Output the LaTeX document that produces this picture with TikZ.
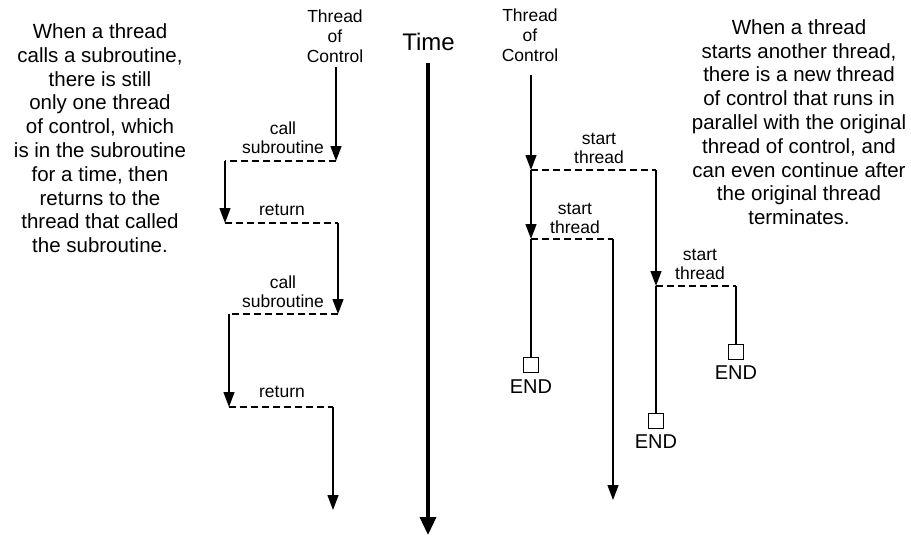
\documentclass[tikz,border=0pt]{standalone}
\usepackage{fontspec}
\setmainfont{Liberation Sans}
\usetikzlibrary{arrows.meta}
\begin{document}
\begin{tikzpicture}[x=1pt,y=-1pt,
  desc/.style={align=center,inner sep=0,font=\fontsize{20.5}{23.8}\selectfont,anchor=south},
  lbl/.style={align=center,inner sep=0,font=\fontsize{17.5}{19}\selectfont,anchor=south},
  toc/.style={align=center,inner sep=0,font=\fontsize{17.5}{20}\selectfont,anchor=south},
  flow/.style={line width=1.3pt,-{Triangle[length=15pt,width=11pt]}},
  plain/.style={line width=1.3pt},
  dsh/.style={line width=1.3pt,dash pattern=on 7pt off 4pt},
  timearrow/.style={line width=3.5pt,-{Triangle[length=18pt,width=16pt]}},
  endbox/.style={draw,line width=1.3pt,minimum size=15pt,inner sep=0,anchor=north},
  endlbl/.style={inner sep=0,font=\fontsize{20}{24}\selectfont,anchor=base},
]
\useasboundingbox (0,0) rectangle (911,536);

% descriptions
\node[desc] (descL) at (100,253) {When a thread\\calls a subroutine,\\there is still\\only one thread\\of control, which\\is in the subroutine\\for a time, then\\returns to the\\thread that called\\the subroutine.};
\node[desc] (descR) at (799,225) {When a thread\\starts another thread,\\there is a new thread\\of control that runs in\\parallel with the original\\thread of control, and\\can even continue after\\the original thread\\terminates.};

% headers
\node[toc] (tocL) at (335,63) {Thread\\of\\Control};
\node[toc] (tocR) at (530,62) {Thread\\of\\Control};
\node[inner sep=0,font=\fontsize{24}{28}\selectfont,anchor=base] (time) at (428.5,50) {Time};

% time axis
\coordinate (t0) at (428,63);
\coordinate (t1) at (428,535);
\draw[timearrow] (t0) -- (t1);

% left: subroutine calls
\coordinate (L0) at (336,67);
\coordinate (L1) at (336,161);
\coordinate (L2) at (225,161);
\coordinate (L3) at (225,223);
\coordinate (L4) at (338,223);
\coordinate (L5) at (338,314);
\coordinate (L6) at (229,314);
\coordinate (L7) at (229,407);
\coordinate (L8) at (333,407);
\coordinate (L9) at (333,510);
\draw[flow] (L0) -- (L1);
\draw[dsh] (L1) -- (L2);
\draw[flow] (L2) -- (L3);
\draw[dsh] (L3) -- (L4);
\draw[flow] (L4) -- (L5);
\draw[dsh] (L5) -- (L6);
\draw[flow] (L6) -- (L7);
\draw[dsh] (L7) -- (L8);
\draw[flow] (L8) -- (L9);
\node[lbl] (call1) at (283,154) {call\\subroutine};
\node[lbl] (ret1) at (282,216) {return};
\node[lbl] (call2) at (283,308) {call\\subroutine};
\node[lbl] (ret2) at (282,398) {return};

% right: thread starts
\coordinate (R0) at (531,75);
\coordinate (R1) at (531,170);
\coordinate (R2) at (656,170);
\coordinate (R3) at (656,286);
\coordinate (R4) at (736,286);
\coordinate (R5) at (531,239);
\coordinate (R6) at (613,239);
\coordinate (R7) at (613,500);
\node[endbox] (end1) at (531,357) {};
\node[endbox] (end2) at (656,413) {};
\node[endbox] (end3) at (736,344) {};
\draw[flow] (R0) -- (R1);
\draw[dsh] (R1) -- (R2);
\draw[flow] (R2) -- (R3);
\draw[dsh] (R3) -- (R4);
\draw[plain] (R4) -- (end3.north);
\draw[plain] (R3) -- (end2.north);
\draw[flow] (R1) -- (R5);
\draw[dsh] (R5) -- (R6);
\draw[flow] (R6) -- (R7);
\draw[plain] (R5) -- (end1.north);
\node[lbl] (st1) at (599,164) {start\\thread};
\node[lbl] (st2) at (575,234) {start\\thread};
\node[lbl] (st3) at (700,280) {start\\thread};
\node[endlbl] (endt1) at (531,393) {END};
\node[endlbl] (endt2) at (656,448) {END};
\node[endlbl] (endt3) at (736,379) {END};
\end{tikzpicture}
\end{document}
